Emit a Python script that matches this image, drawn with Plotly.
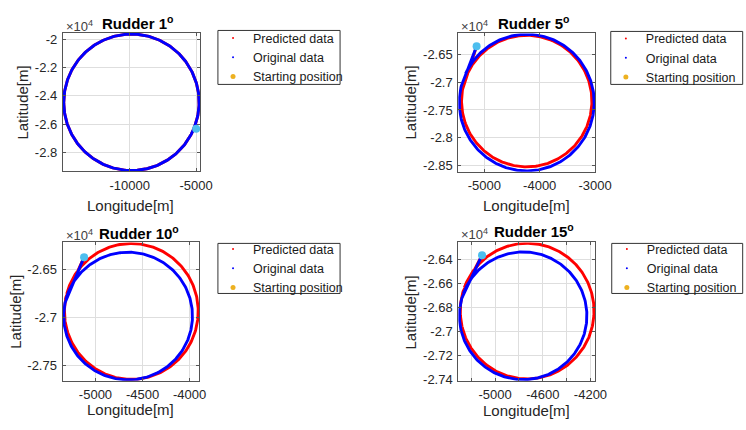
import numpy as np
import plotly.graph_objects as go

W, H = 746, 430

# ---------------- data (metres) ----------------
rudder_deg = [1, 5, 10, 15]

# extents of the steady turning circle, predicted (red) track
pred_xmin = [-14960, -5414, -5330, -5293]
pred_xmax = [-4775, -3056, -3908, -4170]
pred_ymin = [-29305, -28523, -27650, -27392]
pred_ymax = [-19610, -26159, -26222, -26266]

# extents of the steady turning circle, original (blue) track
orig_xmin = [-14960, -5455, -5338, -5300]
orig_xmax = [-4775, -3015, -3969, -4230]
orig_ymin = [-29305, -28595, -27655, -27398]
orig_ymax = [-19610, -26140, -26314, -26338]

# starting positions
start_x = [-5000, -5141, -5121, -5110]
start_y = [-26330, -26354, -26366, -26365]

# heading angle (deg, about circle centre) where the track joins the circle
join_deg = [-22, 155, 165, 160]

# axis ranges
x_ranges = [[-15029, -4706], [-5472, -2998], [-5350, -3896], [-5309, -4161]]
y_ranges = [[-29373, -19540], [-28611, -26124], [-27665, -26211], [-27408, -26259]]

# ticks
x_tickvals = [[-10000, -5000],
              [-5000, -4000, -3000],
              [-5000, -4500, -4000],
              [-5200, -5000, -4800, -4600, -4400, -4200]]
x_ticktext = [["-10000", "-5000"],
              ["-5000", "-4000", "-3000"],
              ["-5000", "-4500", "-4000"],
              ["", "-5000", "", "-4600", "", "-4200"]]
y_tickvals = [[-28000, -26000, -24000, -22000, -20000],
              [-28500, -28000, -27500, -27000, -26500],
              [-27500, -27000, -26500],
              [-27400, -27200, -27000, -26800, -26600, -26400]]
y_ticktext = [["-2.8", "-2.6", "-2.4", "-2.2", "-2"],
              ["-2.85", "-2.8", "-2.75", "-2.7", "-2.65"],
              ["-2.75", "-2.7", "-2.65"],
              ["-2.74", "-2.72", "-2.7", "-2.68", "-2.66", "-2.64"]]

series_names = ["Predicted data", "Original data", "Starting position"]

# ---------------- layout geometry (pixels) ----------------
boxes = [(64.3, 204.7, 32.7, 173.7), (469, 609, 33, 174),
         (64, 204, 246, 387), (469, 609, 246, 387)]
legend_boxes = [(223, 348, 30, 85), (625, 760, 31, 85),
                (223, 348, 247, 298), (626, 760, 247, 298)]
title_pos = [(102, 22), (508, 22), (99, 236), (503, 234)]
exp_pos = [(66, 25), (470, 25), (66, 238), (470, 237)]
xlab_pos = [(134, 208), (539, 208), (134, 416), (539, 417)]
ylab_pos = [(23, 103), (420, 103), (15, 317), (420, 317)]

RED = "#ff0000"
BLUE = "#0000ff"
CYAN = "#4dbeee"
ORANGE = "#edb120"
TXT = "#262626"
FONT = "Liberation Sans, Arial, sans-serif"


def px(x):
    return x / W


def py(y):
    return 1 - y / H


def track(i, xmin, xmax, ymin, ymax):
    cx, cy = (xmin[i] + xmax[i]) / 2, (ymin[i] + ymax[i]) / 2
    rx, ry = (xmax[i] - xmin[i]) / 2, (ymax[i] - ymin[i]) / 2
    th = np.radians(join_deg[i] + np.linspace(0, 360, 361))
    xs = np.concatenate([[start_x[i]], cx + rx * np.cos(th)])
    ys = np.concatenate([[start_y[i]], cy + ry * np.sin(th)])
    return xs, ys


fig = go.Figure()
annotations = []
shapes = []
layout_axes = {}

for i in range(4):
    k = "" if i == 0 else str(i + 1)
    xa, ya = "x" + k, "y" + k
    leg = "legend" + k
    x0, x1, y0, y1 = boxes[i]

    xs, ys = track(i, pred_xmin, pred_xmax, pred_ymin, pred_ymax)
    fig.add_trace(go.Scatter(x=xs, y=ys, mode="lines", line=dict(color=RED, width=2.9),
                             xaxis=xa, yaxis=ya, showlegend=False, hoverinfo="skip"))
    xs, ys = track(i, orig_xmin, orig_xmax, orig_ymin, orig_ymax)
    fig.add_trace(go.Scatter(x=xs, y=ys, mode="lines", line=dict(color=BLUE, width=2.9),
                             xaxis=xa, yaxis=ya, showlegend=False, hoverinfo="skip"))
    fig.add_trace(go.Scatter(x=[start_x[i]], y=[start_y[i]], mode="markers",
                             marker=dict(color=CYAN, size=8), xaxis=xa, yaxis=ya,
                             showlegend=False, hoverinfo="skip"))
    # legend entries (dot markers as in the original figure)
    for name, col, sz in zip(series_names, [RED, BLUE, ORANGE], [2, 2, 5]):
        fig.add_trace(go.Scatter(x=[None], y=[None], mode="markers", name=name,
                                 marker=dict(color=col, size=sz), xaxis=xa, yaxis=ya,
                                 legend=leg, showlegend=True))

    common = dict(showgrid=True, gridcolor="#dedede", gridwidth=1, zeroline=False,
                  showline=True, linecolor="#555555", linewidth=1, mirror="ticks",
                  ticks="inside", ticklen=3, tickcolor="#555555",
                  tickfont=dict(family=FONT, size=13, color=TXT))
    layout_axes["xaxis" + k] = dict(common, domain=[px(x0), px(x1)], range=x_ranges[i],
                                    anchor=ya, tickmode="array", tickvals=x_tickvals[i],
                                    ticktext=x_ticktext[i], ticklabelstandoff=2)
    layout_axes["yaxis" + k] = dict(common, domain=[py(y1), py(y0)], range=y_ranges[i],
                                    anchor=xa, tickmode="array", tickvals=y_tickvals[i],
                                    ticktext=y_ticktext[i], ticklabelstandoff=2)

    lx0, lx1, ly0, ly1 = legend_boxes[i]
    layout_axes[leg] = dict(x=px(lx0 - 5), y=py((ly0 + ly1) / 2), xanchor="left",
                            yanchor="middle", xref="paper", yref="paper",
                            bgcolor="rgba(0,0,0,0)", borderwidth=0,
                            font=dict(family=FONT, size=12.5, color="#1a1a1a"),
                            itemsizing="trace")
    shapes.append(dict(type="rect", xref="paper", yref="paper", x0=px(lx0), x1=px(lx1),
                       y0=py(ly1), y1=py(ly0), line=dict(color="#333333", width=1),
                       fillcolor="rgba(0,0,0,0)", layer="below"))

    tx, ty = title_pos[i]
    annotations.append(dict(text="<b>Rudder %d<sup>o</sup></b>" % rudder_deg[i],
                            x=px(tx), y=py(ty), xref="paper", yref="paper",
                            xanchor="left", yanchor="middle", showarrow=False,
                            font=dict(family=FONT, size=15, color="#000000")))
    ex, ey = exp_pos[i]
    annotations.append(dict(text="×10<sup>4</sup>", x=px(ex), y=py(ey), xref="paper",
                            yref="paper", xanchor="left", yanchor="middle",
                            showarrow=False, font=dict(family=FONT, size=13, color="#404040")))
    lx, ly = xlab_pos[i]
    annotations.append(dict(text="Longitude[m]", x=px(lx), y=py(ly), xref="paper",
                            yref="paper", xanchor="center", yanchor="middle",
                            showarrow=False, font=dict(family=FONT, size=15, color=TXT)))
    lx, ly = ylab_pos[i]
    annotations.append(dict(text="Latitude[m]", x=px(lx), y=py(ly), xref="paper",
                            yref="paper", xanchor="center", yanchor="middle", textangle=-90,
                            showarrow=False, font=dict(family=FONT, size=15, color=TXT)))

fig.update_layout(width=W, height=H, margin=dict(l=0, r=0, t=0, b=0),
                  paper_bgcolor="white", plot_bgcolor="white",
                  annotations=annotations, shapes=shapes, **layout_axes)

fig.write_html("out.html", config={"displayModeBar": False},
               post_script="document.body.style.margin='0px';")
